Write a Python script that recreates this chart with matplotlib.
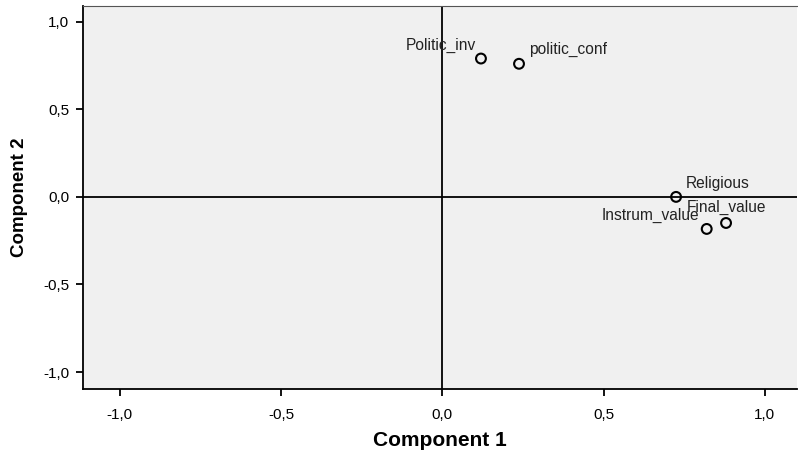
import matplotlib
matplotlib.use("Agg")
import matplotlib.pyplot as plt
from matplotlib.ticker import FuncFormatter

plt.rcParams['font.family'] = ['Liberation Sans', 'DejaVu Sans']

# component loadings
names = ["Politic_inv", "politic_conf", "Religious", "Instrum_value", "Final_value"]
comp1 = [0.12, 0.238, 0.725, 0.82, 0.88]
comp2 = [0.79, 0.76, 0.0, -0.183, -0.149]

# label offsets in pixels (dx, dy, ha)
offsets = [(-5, 13, "right"), (10, 14, "left"), (10, 13, "left"),
           (-7, 14, "right"), (0, 16, "center")]

ticks = [-1.0, -0.5, 0.0, 0.5, 1.0]

fig = plt.figure(figsize=(7.98, 4.58), dpi=100)
ax = fig.add_axes([83 / 798, 1 - 389 / 458, 714 / 798, 383 / 458])
ax.set_facecolor("#f0f0f0")

ax.axhline(0, color="black", lw=1.3, zorder=1)
ax.axvline(0, color="black", lw=1.3, zorder=1)

ax.scatter(comp1, comp2, s=50, facecolors="none", edgecolors="black",
           linewidths=1.5, zorder=3)
for n, x, y, (dx, dy, ha) in zip(names, comp1, comp2, offsets):
    ax.annotate(n, (x, y), xytext=(dx, dy), textcoords="offset pixels",
                ha=ha, va="center", fontsize=11.2, color="#222222")

ax.set_xlim(-1.114, 1.1)
ax.set_ylim(-1.097, 1.09)
ax.set_xticks(ticks)
ax.set_yticks(ticks)
fmt = FuncFormatter(lambda v, p: f"{v:.1f}".replace(".", ","))
ax.xaxis.set_major_formatter(fmt)
ax.yaxis.set_major_formatter(fmt)
ax.tick_params(direction="out", length=5, width=1.3, labelsize=11)
ax.tick_params(axis="x", pad=9)
ax.tick_params(axis="y", pad=5)

for s in ["left", "bottom"]:
    ax.spines[s].set_linewidth(1.3)
ax.spines["right"].set_visible(False)
ax.spines["top"].set_color("#555555")
ax.spines["top"].set_linewidth(0.8)

ax.set_xlabel("Component 1", fontsize=15, fontweight="bold", labelpad=6)
ax.set_ylabel("Component 2", fontsize=13.5, fontweight="bold", labelpad=11)

fig.savefig("out.png", dpi=100)
